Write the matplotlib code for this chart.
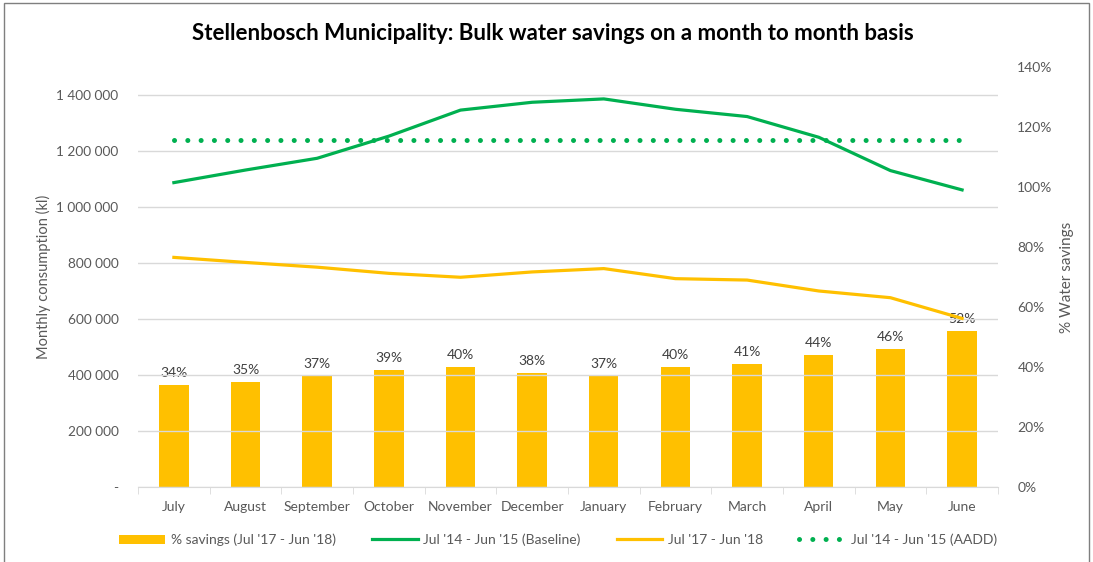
import matplotlib.pyplot as plt
import matplotlib.ticker as mticker
from matplotlib.patches import Rectangle
import numpy as np

plt.rcParams['font.family'] = ['Lato', 'DejaVu Sans']

months = ['July', 'August', 'September', 'October', 'November', 'December',
          'January', 'February', 'March', 'April', 'May', 'June']
savings_pct = [34, 35, 37, 39, 40, 38, 37, 40, 41, 44, 46, 52]
baseline = [1087000, 1132000, 1174000, 1253000, 1346000, 1374000,
            1386000, 1349000, 1323000, 1249000, 1130000, 1061000]
current = [820000, 802000, 785000, 763000, 749000, 768000,
           780000, 744000, 739000, 700000, 676000, 602000]
aadd = [1240000] * 12

green = '#00B050'
gold = '#FFC000'
grey = '#595959'

fig = plt.figure(figsize=(10.93, 5.62), dpi=100)
ax = fig.add_axes([0.1263, 0.1335, 0.7867, 0.7473])
ax2 = ax.twinx()

x = np.arange(len(months))

# bars on the secondary (percentage) axis
bars = ax2.bar(x, savings_pct, width=0.41, color=gold, label="% savings (Jul '17 - Jun '18)")
for xi, v in zip(x, savings_pct):
    ax2.text(xi, v + 2.0, f'{v}%', ha='center', va='bottom', fontsize=10, color='#404040')

# lines on the primary axis
l1, = ax.plot(x, baseline, color=green, lw=2.3, label="Jul '14 - Jun '15 (Baseline)")
l2, = ax.plot(x, current, color=gold, lw=2.3, label="Jul '17 - Jun '18")
l3, = ax.plot(x, aadd, color=green, lw=3.6, linestyle=(0, (0.01, 2.65)),
              dash_capstyle='round', label="Jul '14 - Jun '15 (AADD)")

ax.set_zorder(2)
ax.patch.set_visible(False)

ax.set_xlim(-0.5, 11.5)
ax.set_ylim(0, 1500000)
ax2.set_ylim(0, 140)

ax.set_yticks(np.arange(0, 1400001, 200000))
ax.yaxis.set_major_formatter(mticker.FuncFormatter(
    lambda v, p: '-' if v == 0 else f'{int(v):,}'.replace(',', ' ')))
ax2.set_yticks(np.arange(0, 141, 20))
ax2.yaxis.set_major_formatter(mticker.FuncFormatter(lambda v, p: f'{int(v)}%'))

ax.set_xticks(x)
ax.set_xticklabels(months)
ax.set_xticks(np.arange(-0.5, 12, 1), minor=True)
ax.tick_params(axis='x', which='major', length=0, pad=10, labelsize=10, labelcolor=grey)
ax.tick_params(axis='x', which='minor', length=5, color='#d9d9d9', direction='out')
ax.tick_params(axis='y', length=0, pad=14, labelsize=9.8, labelcolor=grey)
ax2.tick_params(axis='y', length=0, pad=14, labelsize=10, labelcolor=grey)

ax.grid(axis='y', color='#d9d9d9', lw=1)
ax.set_axisbelow(True)
for a in (ax, ax2):
    for s in a.spines.values():
        s.set_visible(False)
ax.spines['bottom'].set_visible(True)
ax.spines['bottom'].set_color('#d9d9d9')

ax.set_ylabel('Monthly consumption (kl)', fontsize=10.5, color=grey, labelpad=4)
ax2.set_ylabel('% Water savings', fontsize=11, color=grey, labelpad=5)

fig.text(0.506, 0.94, 'Stellenbosch Municipality: Bulk water savings on a month to month basis',
         ha='center', va='center', fontsize=16, fontweight='bold', color='black')

fig.legend([bars, l1, l2, l3], [bars.get_label(), l1.get_label(), l2.get_label(), l3.get_label()],
           loc='center', bbox_to_anchor=(0.5105, 0.039), ncol=4, frameon=False,
           fontsize=10, labelcolor=grey, handlelength=3.3, handletextpad=0.4,
           columnspacing=2.6)

fig.patches.append(Rectangle((0.004, -0.01), 0.992, 1.005, transform=fig.transFigure,
                             fill=False, edgecolor='#7f7f7f', lw=1))

fig.savefig('out.png', dpi=100)
